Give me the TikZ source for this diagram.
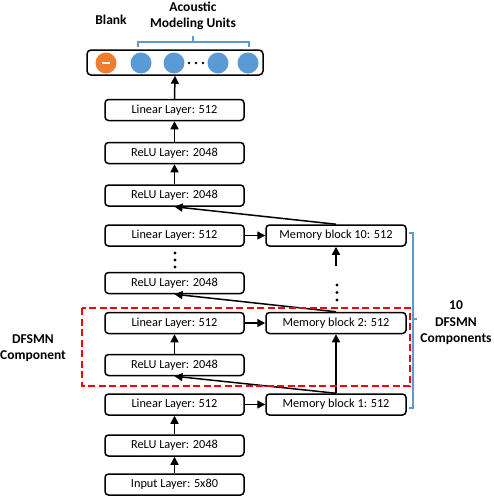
\documentclass[tikz,border=0pt]{standalone}
\usepackage{fontspec}
\setmainfont{Carlito}
\usetikzlibrary{arrows.meta}
\definecolor{bblue}{RGB}{91,155,213}
\definecolor{borange}{RGB}{237,125,49}
\begin{document}
\begin{tikzpicture}[x=1pt,y=-1pt,
  layer/.style={draw,line width=1.5pt,rounded corners=3.5pt,minimum width=139pt,minimum height=21pt,inner sep=0pt,font=\fontsize{12.3}{14}\selectfont},
  arr/.style={line width=1.5pt,-{Triangle[length=8pt,width=8pt]}},
  lbl/.style={font=\fontsize{13.5}{16.5}\selectfont\bfseries,align=center},
  unit/.style={circle,fill=bblue,minimum size=21pt,inner sep=0pt},
  dotc/.style={circle,fill=black,inner sep=0pt,minimum size=3.2pt}]
\useasboundingbox (0,0) rectangle (494,496);
% output layer
\node[draw,line width=1.5pt,rounded corners=4pt,minimum width=176pt,minimum height=25pt,inner sep=0pt] (out) at (175,62.5) {};
\node[circle,fill=borange,minimum size=21pt,inner sep=0pt] (blank) at (106,63) {};
\draw[white,line width=1.8pt] (102,63) -- (110,63);
\node[unit] (u1) at (141,63) {};
\node[unit] (u2) at (174,63) {};
\node[unit] (u3) at (218,63) {};
\node[unit] (u4) at (248,63) {};
\node[dotc,minimum size=2.8pt] (d1) at (189,63) {};
\node[dotc,minimum size=2.8pt] (d2) at (196,63) {};
\node[dotc,minimum size=2.8pt] (d3) at (203,63) {};
\node[lbl] (blab) at (111,20) {Blank};
\node[lbl] (alab) at (193,16) {Acoustic\\Modeling Units};
\draw[bblue,line width=1.3pt] (138,47) -- (138,42) -- (249,42) -- (249,47) (193,42) -- (193,36);
% left column
\node[layer] (lin0) at (174.5,110) {Linear Layer: 512};
\node[layer] (relu0) at (174.5,153) {ReLU Layer: 2048};
\node[layer] (relu10) at (174.5,195.5) {ReLU Layer: 2048};
\node[layer] (lin10) at (174.5,235.5) {Linear Layer: 512};
\node[layer] (relu3) at (174.5,283) {ReLU Layer: 2048};
\node[layer] (lin2) at (174.5,323) {Linear Layer: 512};
\node[layer] (relu2) at (174.5,365) {ReLU Layer: 2048};
\node[layer] (lin1) at (174.5,404.5) {Linear Layer: 512};
\node[layer] (relu1) at (174.5,445.5) {ReLU Layer: 2048};
\node[layer] (inp) at (174.5,484.5) {Input Layer: 5x80};
% memory column
\node[layer,minimum width=140pt] (m10) at (336,235.5) {Memory block 10: 512};
\node[layer,minimum width=140pt] (m2) at (336,323) {Memory block 2: 512};
\node[layer,minimum width=140pt] (m1) at (336,404.5) {Memory block 1: 512};
% dots
\node[dotc] (ld1) at (175,253) {};
\node[dotc] (ld2) at (175,260) {};
\node[dotc] (ld3) at (175,267) {};
\node[dotc] (rd1) at (337,285) {};
\node[dotc] (rd2) at (337,292.5) {};
\node[dotc] (rd3) at (337,300) {};
\coordinate (m10s) at (336,266);
% vertical arrows
\draw[arr] (lin0.north) -- (out.south);
\draw[arr] (relu0.north) -- (lin0.south);
\draw[arr] (relu10.north) -- (relu0.south);
\draw[arr] (relu2.north) -- (lin2.south);
\draw[arr] (relu1.north) -- (lin1.south);
\draw[arr] (inp.north) -- (relu1.south);
\draw[arr] (m1.north) -- (m2.south);
\draw[arr] (m10s) -- (m10.south);
% horizontal arrows
\draw[arr] (lin10.east) -- (m10.west);
\draw[arr] (lin2.east) -- (m2.west);
\draw[arr] (lin1.east) -- (m1.west);
% diagonal arrows
\draw[arr] (m10.north) -- (relu10.south);
\draw[arr] (m2.north) -- (relu3.south);
\draw[arr] (m1.north) -- (relu2.south);
% red dashed box
\draw[red,line width=2.2pt,dash pattern=on 7pt off 3.5pt] (82,308) rectangle (410,386);
% right brace
\draw[bblue,line width=1.3pt] (409,233) -- (413,233) -- (413,408) -- (409,408) (413,319) -- (417,319);
\node[lbl] (clab) at (456,323) {10\\DFSMN\\Components};
\node[lbl] (dlab) at (33,348) {DFSMN\\Component};
\end{tikzpicture}
\end{document}
